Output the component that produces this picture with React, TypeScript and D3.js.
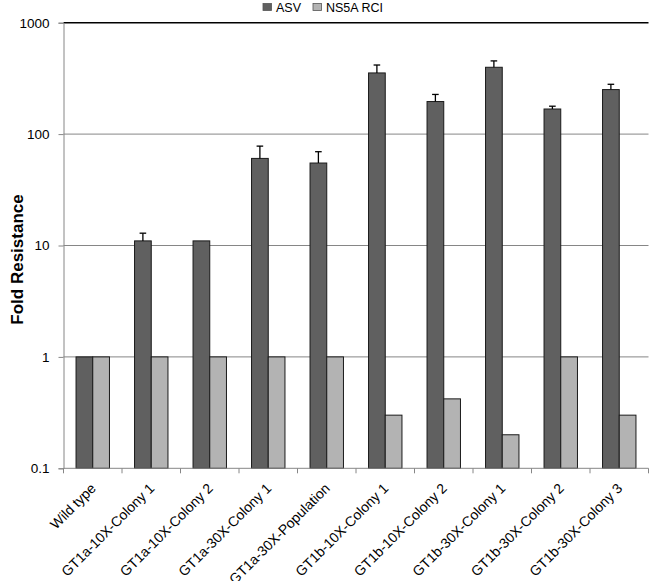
import { useEffect, useRef } from 'react'
import * as d3 from 'd3'

const categories = [
  'Wild type',
  'GT1a-10X-Colony 1',
  'GT1a-10X-Colony 2',
  'GT1a-30X-Colony 1',
  'GT1a-30X-Population',
  'GT1b-10X-Colony 1',
  'GT1b-10X-Colony 2',
  'GT1b-30X-Colony 1',
  'GT1b-30X-Colony 2',
  'GT1b-30X-Colony 3',
]
const seriesNames = ['ASV', 'NS5A RCI']
const asv = [1, 11, 11, 60.5, 55, 354, 196, 398, 168, 251]
// upper end of the error bar, null where none is drawn
const asvErrTop = [null, 12.9, null, 78, 69.5, 417, 227, 454, 178, 280]
const ns5a = [1, 1, 1, 1, 1, 0.3, 0.42, 0.2, 1, 0.3]
const yTicks = [0.1, 1, 10, 100, 1000]
const colors = ['#606060', '#b3b3b3']

const width = 650
const height = 581
const margin = { left: 63.5, right: 1.5, top: 22.7, bottom: 112.7 }
const font = "'Liberation Sans', Arial, sans-serif"

const App = () => {
  const xAxisRef = useRef<SVGGElement>(null)
  const yAxisRef = useRef<SVGGElement>(null)

  const x = d3
    .scaleBand()
    .domain(categories)
    .range([margin.left, width - margin.right])

  const barW = x.bandwidth() / 3.5
  const x1 = d3
    .scaleBand()
    .domain(seriesNames)
    .range([0.75 * barW, 2.75 * barW])

  const y = d3
    .scaleLog()
    .domain([0.1, 1000])
    .range([height - margin.bottom, margin.top])

  const values = [asv, ns5a]

  useEffect(() => {
    if (xAxisRef.current) {
      const g = d3.select(xAxisRef.current)
      g.selectAll('*').remove()
      // tick marks at band boundaries
      const bounds = categories.map(c => x(c) as number)
      bounds.push(width - margin.right)
      g.append('line')
        .attr('x1', margin.left)
        .attr('x2', width - margin.right)
        .attr('y1', 0)
        .attr('y2', 0)
        .attr('stroke', '#868686')
      g.selectAll('line.tick')
        .data(bounds)
        .join('line')
        .attr('class', 'tick')
        .attr('x1', d => d)
        .attr('x2', d => d)
        .attr('y1', 0)
        .attr('y2', 5)
        .attr('stroke', '#868686')
      g.selectAll('text')
        .data(categories)
        .join('text')
        .attr('transform', d => {
          const cx = (x(d) as number) + x.bandwidth() / 2 + 4
          return `translate(${cx}, 21) rotate(-45)`
        })
        .attr('text-anchor', 'end')
        .attr('font-family', font)
        .attr('font-size', 14)
        .attr('fill', '#000')
        .text(d => d)
    }
    if (yAxisRef.current) {
      const yAxis = d3
        .axisLeft(y)
        .tickValues(yTicks)
        .tickFormat(d => String(d))
        .tickSize(5)
        .tickPadding(9)
      const g = d3.select(yAxisRef.current).call(yAxis)
      g.select('.domain').attr('stroke', '#868686')
      g.selectAll('.tick line').attr('stroke', '#868686')
      g.selectAll('.tick text')
        .attr('font-family', font)
        .attr('font-size', 13.5)
        .attr('fill', '#000')
    }
  }, [])

  return (
    <svg
      width={width}
      height={height}
      style={{ position: 'absolute', left: 0, top: 0, background: '#fff' }}
    >
      {/* gridlines */}
      {yTicks.slice(1).map(t => (
        <line
          key={t}
          x1={margin.left}
          x2={width - margin.right}
          y1={y(t)}
          y2={y(t)}
          stroke={t === 1000 ? '#000' : '#868686'}
          strokeWidth={t === 1000 ? 1.5 : 1}
        />
      ))}

      {/* bars */}
      {seriesNames.map((s, si) =>
        categories.map((c, i) => (
          <rect
            key={s + c}
            x={(x(c) as number) + (x1(s) as number)}
            y={y(values[si][i])}
            width={barW}
            height={y(0.1) - y(values[si][i])}
            fill={colors[si]}
            stroke="#1a1a1a"
            strokeWidth={1}
          />
        ))
      )}

      {/* error bars */}
      {categories.map((c, i) => {
        const top = asvErrTop[i]
        if (top == null) return null
        const cx = (x(c) as number) + (x1('ASV') as number) + barW / 2
        return (
          <g key={'err' + c} stroke="#000" strokeWidth={1.3}>
            <line x1={cx} x2={cx} y1={y(asv[i])} y2={y(top)} />
            <line x1={cx - 3.3} x2={cx + 3.3} y1={y(top)} y2={y(top)} />
          </g>
        )
      })}

      <g ref={xAxisRef} transform={`translate(0, ${y(0.1)})`} />
      <g ref={yAxisRef} transform={`translate(${margin.left}, 0)`} />

      {/* y title */}
      <text
        transform={`translate(23, ${(y(0.1) + y(1000)) / 2 + 14}) rotate(-90)`}
        textAnchor="middle"
        fontFamily={font}
        fontWeight="bold"
        fontSize={17}
      >
        Fold Resistance
      </text>

      {/* legend */}
      {seriesNames.map((s, si) => {
        const lx = [263, 313][si]
        return (
          <g key={'leg' + s}>
            <rect
              x={lx}
              y={3.5}
              width={8.5}
              height={7}
              fill={colors[si]}
              stroke="#555"
              strokeWidth={0.8}
            />
            <text
              x={lx + 13}
              y={11.5}
              fontFamily={font}
              fontSize={12.5}
              fill="#000"
            >
              {s}
            </text>
          </g>
        )
      })}
    </svg>
  )
}

export default App
